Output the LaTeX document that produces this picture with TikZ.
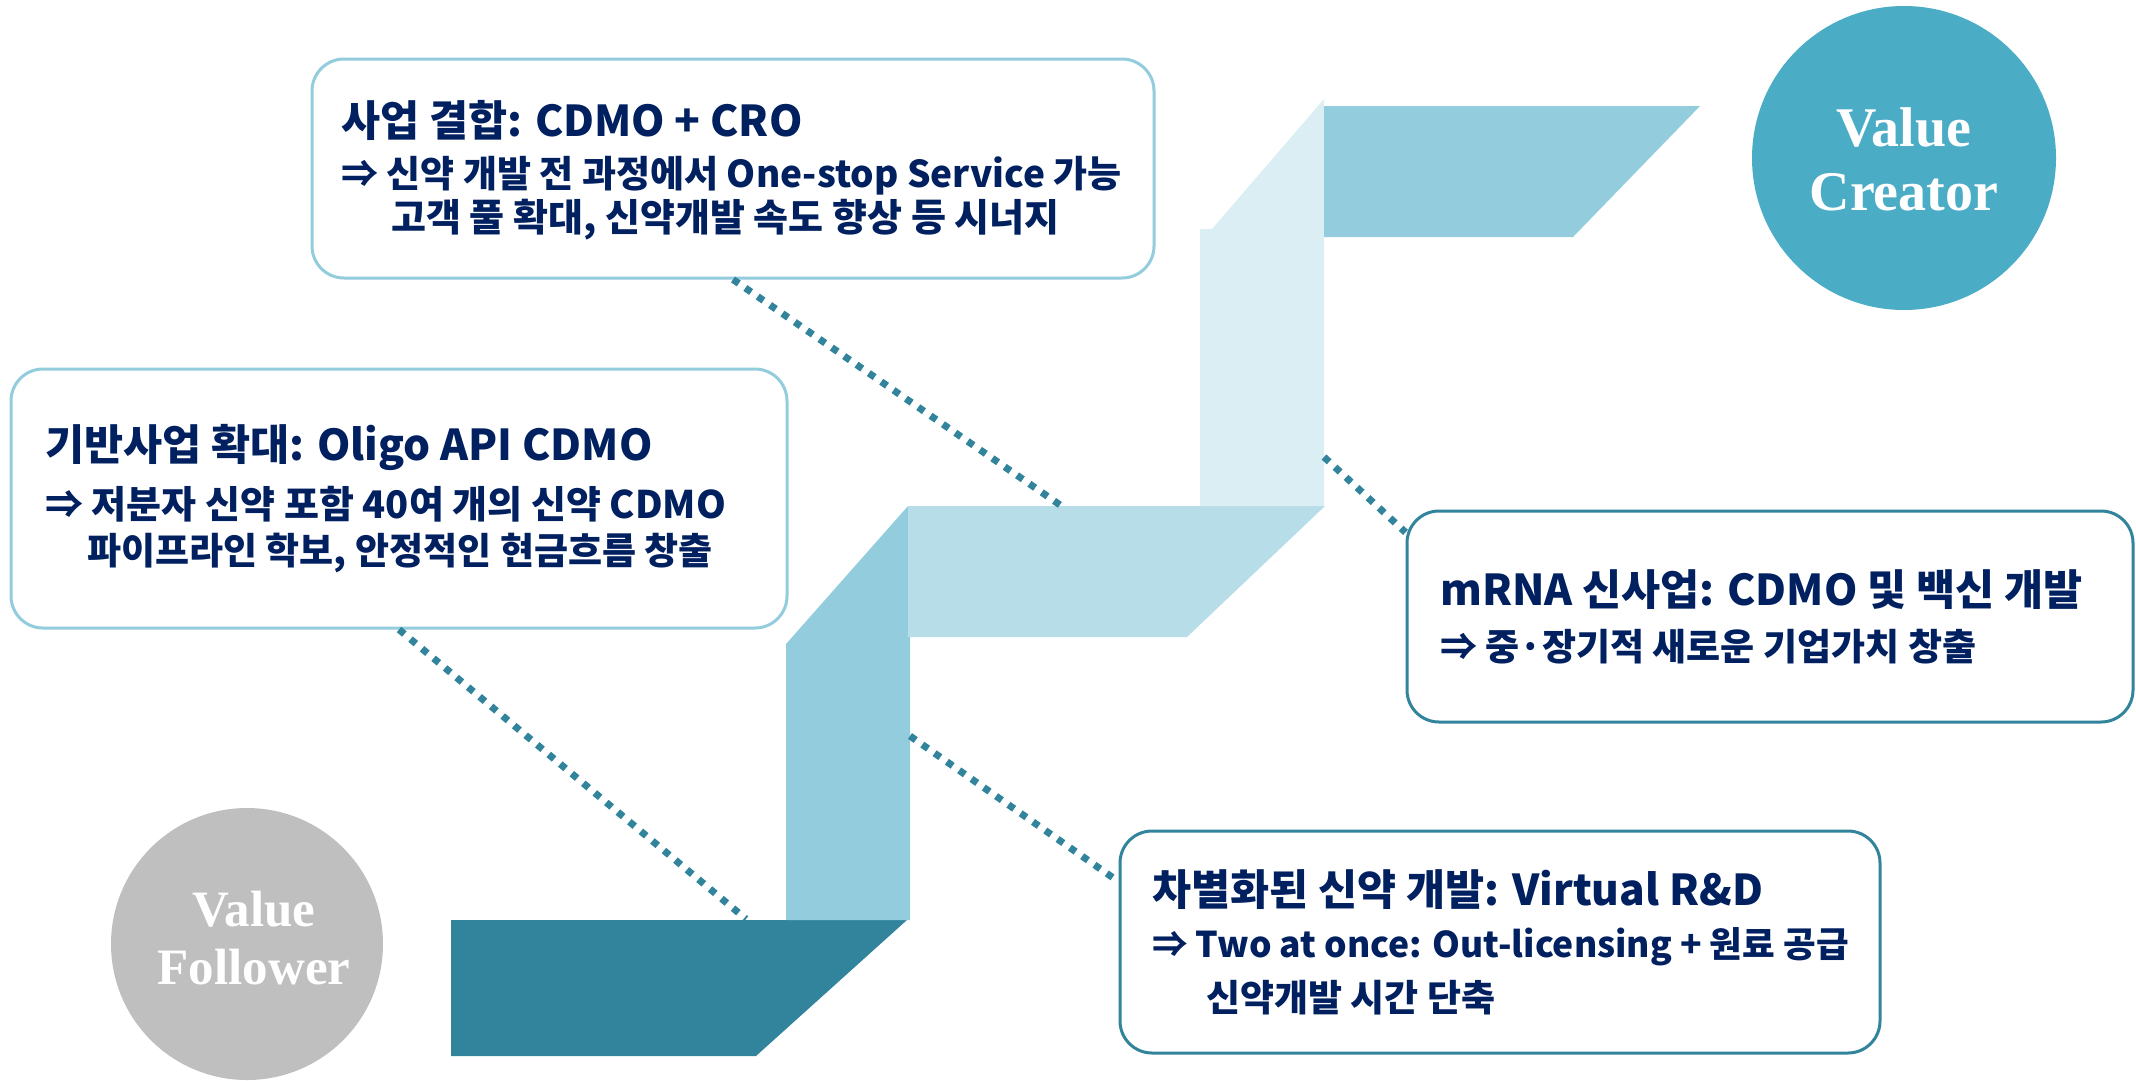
\documentclass[tikz,border=0pt]{standalone}
\usepackage{fontspec}
\newfontfamily\kr{Noto Sans CJK KR}
\newfontfamily\vfont{Liberation Serif}
\definecolor{navy}{HTML}{002060}
\definecolor{dteal}{HTML}{31849B}
\definecolor{lblue}{HTML}{93CDDD}
\definecolor{mblue}{HTML}{B7DDE8}
\definecolor{pblue}{HTML}{DAEEF3}
\definecolor{vcblue}{HTML}{4BACC6}
\definecolor{vgray}{HTML}{BFBFBF}
\tikzset{
  infobox/.style={draw, line width=3pt, rounded corners=32pt, inner sep=0pt, fill=white},
  ttl/.style={anchor=west, inner sep=0pt, text=navy, font=\kr\bfseries\fontsize{42.5}{50}\selectfont},
  bdy/.style={anchor=west, inner sep=0pt, text=navy, font=\kr\bfseries\fontsize{37}{44}\selectfont},
  circ/.style={circle, inner sep=0pt},
  ctext/.style={inner sep=0pt, text=white, font=\vfont\bfseries},
  dotline/.style={draw=dteal, line width=7pt, dash pattern=on 7pt off 8pt},
}
\begin{document}
\begin{tikzpicture}[x=1pt,y=-1pt]
\useasboundingbox (0,0) rectangle (2136,1080);
\clip (0,0) rectangle (2136,1080);
% ribbon
\fill[dteal] (451,920) -- (907,920) -- (756,1056) -- (451,1056) -- cycle;
\fill[lblue] (786,920) -- (910,920) -- (910,506) -- (908,506) -- (786,644) -- cycle;
\fill[mblue] (908,506) -- (1325,506) -- (1187,637) -- (908,637) -- cycle;
\fill[pblue] (1200,506) -- (1324,506) -- (1324,99) -- (1212,229) -- (1200,229) -- cycle;
\fill[lblue] (1324,106) -- (1700,106) -- (1573,237) -- (1324,237) -- cycle;
% circles
\node[circ, fill=vcblue, minimum size=304pt] (vc) at (1904,158) {};
\node[ctext, font=\vfont\bfseries\fontsize{56}{60}\selectfont] (vc1) at (1904,127) {Value};
\node[ctext, font=\vfont\bfseries\fontsize{56}{60}\selectfont] (vc2) at (1904,192) {Creator};
\node[circ, fill=vgray, minimum size=272pt] (vf) at (247,944) {};
\node[ctext, font=\vfont\bfseries\fontsize{51}{56}\selectfont] (vf1) at (254,909) {Value};
\node[ctext, font=\vfont\bfseries\fontsize{51}{56}\selectfont] (vf2) at (254,967) {Follower};
% connector endpoints on ribbon
\coordinate (r1) at (1063,507);
\coordinate (r2) at (746,919);
\coordinate (r3) at (1324,457);
\coordinate (r4) at (910,736);
% boxes
\node[infobox, draw=lblue, minimum width=842pt, minimum height=219pt] (b1) at (733,168.5) {};
\node[infobox, draw=lblue, minimum width=776pt, minimum height=259pt] (b2) at (399,498.5) {};
\node[infobox, draw=dteal, minimum width=726pt, minimum height=211pt] (b3) at (1770,616.5) {};
\node[infobox, draw=dteal, minimum width=760pt, minimum height=222pt] (b4) at (1500,942) {};
% connectors
\draw[dotline] (b1.south) -- (r1);
\draw[dotline] (b2.south) -- (r2);
\draw[dotline] (r3) -- (b3.167);
\draw[dotline] (r4) -- (b4.171);
% texts
\node[ttl] (t1) at (341,120) {사업 결합: CDMO + CRO};
\node[bdy] (t1a) at (341,176) {⇒ 신약 개발 전 과정에서 One-stop Service 가능};
\node[bdy, font=\kr\bfseries\fontsize{38}{44}\selectfont] (t1b) at (391,220) {고객 풀 확대, 신약개발 속도 향상 등 시너지};
\node[ttl] (t2) at (45,447) {기반사업 확대: Oligo API CDMO};
\node[bdy, font=\kr\bfseries\fontsize{38}{44}\selectfont] (t2a) at (45,504) {⇒ 저분자 신약 포함 40여 개의 신약 CDMO};
\node[bdy] (t2b) at (87,553) {파이프라인 학보, 안정적인 현금흐름 창출};
\node[ttl] (t3) at (1440,590) {mRNA 신사업: CDMO 및 백신 개발};
\node[bdy] (t3a) at (1440,647) {⇒ 중·장기적 새로운 기업가치 창출};
\node[ttl] (t4) at (1152,890) {차별화된 신약 개발: Virtual R\&D};
\node[bdy, font=\kr\bfseries\fontsize{35.5}{44}\selectfont] (t4a) at (1152,947) {⇒ Two at once: Out-licensing + 원료 공급};
\node[bdy] (t4b) at (1206,998) {신약개발 시간 단축};
\end{tikzpicture}
\end{document}
